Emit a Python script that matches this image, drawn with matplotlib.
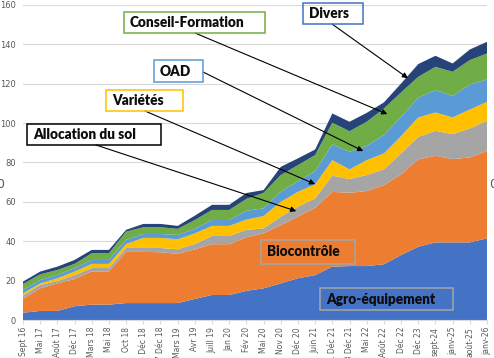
import matplotlib
matplotlib.use('Agg')
import matplotlib.pyplot as plt
from matplotlib.patches import Rectangle
import numpy as np

dates = ['Sept 16', 'Mai 17', 'Août 17', 'Déc 17', 'Mars 18', 'Mai 18', 'Oct 18',
         '5 Déc 18', '17 Déc 18', 'Mars 19', 'Avr 19', 'Juill 19', 'Jan 20', 'Fév 20',
         'Mai 20', 'Nov 20', 'Déc 20', 'Juin 21', '21 Déc 21', '18 Déc 21', 'Mai 22',
         'Août 22', 'Déc 22', 'Déc 23', 'sept-24', 'janv-25', 'août-25', 'janv-26']

agro = [3.7, 4.6, 4.6, 7.0, 7.8, 7.8, 8.6, 8.6, 8.6, 8.6, 10.7, 12.7, 12.7, 14.8,
        16.1, 18.6, 21.2, 22.8, 27.1, 27.4, 27.4, 28.3, 33.0, 37.2, 39.4, 39.4, 39.4, 41.5]
biocontrole = [7.0, 11.5, 14.0, 13.8, 16.9, 16.9, 26.0, 26.0, 25.8, 25.0, 25.2, 25.8, 25.8, 27.2,
               27.9, 29.6, 31.3, 34.2, 38.0, 37.2, 38.1, 40.2, 40.9, 44.4, 44.0, 42.3, 43.2, 44.3]
allocation = [1.7, 1.7, 1.2, 1.9, 1.7, 1.7, 2.0, 2.0, 2.2, 2.3, 2.7, 4.2, 4.2, 3.8,
              2.5, 4.3, 5.0, 4.8, 8.2, 7.0, 8.1, 8.0, 10.7, 11.4, 12.7, 12.7, 14.7, 15.4]
varietes = [1.2, 0.8, 1.4, 1.9, 2.1, 2.1, 2.0, 5.1, 5.1, 5.1, 5.4, 5.1, 5.1, 5.2,
            6.3, 7.5, 7.6, 7.1, 7.9, 4.9, 7.6, 8.1, 8.8, 9.9, 9.3, 8.5, 9.6, 9.6]
oad = [1.7, 1.7, 1.7, 1.7, 2.0, 2.0, 2.1, 2.0, 2.0, 2.2, 2.3, 3.0, 3.0, 4.5,
       3.9, 5.1, 5.5, 6.7, 8.0, 8.9, 7.3, 9.3, 9.8, 10.0, 11.4, 11.0, 12.7, 11.4]
conseil = [3.0, 2.9, 2.5, 2.2, 3.4, 3.4, 4.2, 3.4, 3.4, 3.1, 4.5, 5.1, 5.1, 6.0,
           7.9, 8.5, 8.1, 8.2, 11.0, 10.5, 12.2, 13.5, 12.4, 10.6, 11.8, 12.2, 12.4, 13.2]
divers = [1.2, 1.4, 1.7, 2.0, 1.7, 1.7, 0.9, 1.7, 1.7, 1.5, 2.2, 2.6, 2.6, 3.0,
          1.4, 4.2, 3.4, 2.8, 4.7, 4.8, 4.5, 3.1, 4.5, 6.5, 5.6, 4.2, 5.4, 5.9]

colors = ['#4472C4', '#ED7D31', '#A5A5A5', '#FFC000', '#5B9BD5', '#70AD47', '#264478']

W, H = 494, 358
fig = plt.figure(figsize=(W / 100, H / 100), dpi=100)
ax = fig.add_axes([23 / W, 38 / H, 464 / W, 315 / H])

x = np.arange(len(dates))
ax.stackplot(x, agro, biocontrole, allocation, varietes, oad, conseil, divers,
             colors=colors, linewidth=0, zorder=2)

ax.set_xlim(0, len(dates) - 1)
ax.set_ylim(0, 160)
ax.set_yticks(range(0, 161, 20))
ax.grid(axis='y', color='#D9D9D9', lw=0.8, zorder=0)
ax.set_axisbelow(True)
for s in ['top', 'right', 'left']:
    ax.spines[s].set_visible(False)
ax.spines['bottom'].set_color('#D9D9D9')
ax.set_xticks(x)
ax.set_xticklabels(dates, rotation=90, fontsize=5.5, color='#595959')
ax.tick_params(axis='x', length=3, color='#D9D9D9', pad=2)
ax.tick_params(axis='y', length=0, labelsize=6, labelcolor='#595959', pad=5)


def fx(px):
    return px / W


def fy(py):
    return 1 - py / H


# label boxes: text, x0, y0, x1, y1 (image px), edge colour
boxes = [
    ('Conseil-Formation', 124, 12, 265, 33, '#70AD47'),
    ('Divers', 303, 3, 363, 24, '#4472C4'),
    ('OAD', 154, 60, 203, 82, '#5B9BD5'),
    ('Variétés', 106, 90, 183, 111, '#FFC000'),
    ('Allocation du sol', 27, 124, 161, 145, '#000000'),
    ('Biocontrôle', 261, 240, 355, 264, '#A6A6A6'),
    ('Agro-équipement', 320, 288, 453, 310, '#A6A6A6'),
]
for label, x0, y0, x1, y1, ec in boxes:
    fig.add_artist(Rectangle((fx(x0), fy(y1)), fx(x1 - x0), (y1 - y0) / H,
                             transform=fig.transFigure, fill=False,
                             edgecolor=ec, lw=1.1, zorder=5))
    fig.text(fx(x0 + 6), fy((y0 + y1) / 2), label, family='Lato', weight='heavy',
             fontsize=9.8, color='#0D0D0D', ha='left', va='center', zorder=6)

# arrows: start (image px) -> tip (data coords)
arrows = [
    ((195, 33), (21.2, 104.6)),
    ((332, 24), (22.4, 122.8)),
    ((203, 72), (19.8, 85.8)),
    ((145, 111), (17.0, 69.0)),
    ((96, 145), (15.9, 55.3)),
]
for (sx, sy), tip in arrows:
    ax.annotate('', xy=tip, xycoords='data',
                xytext=(fx(sx), fy(sy)), textcoords='figure fraction',
                arrowprops=dict(arrowstyle='-|>', color='black', lw=0.8,
                                mutation_scale=8, shrinkA=0, shrinkB=0),
                annotation_clip=False, zorder=7)

# cut-off fragments at the figure edges
fig.text(fx(-4), fy(184), '0', fontsize=9, color='#595959', ha='left', va='center')
fig.text(fx(489), fy(184), '0', fontsize=9, color='#595959', ha='left', va='center')

fig.savefig('out.png', dpi=100)
